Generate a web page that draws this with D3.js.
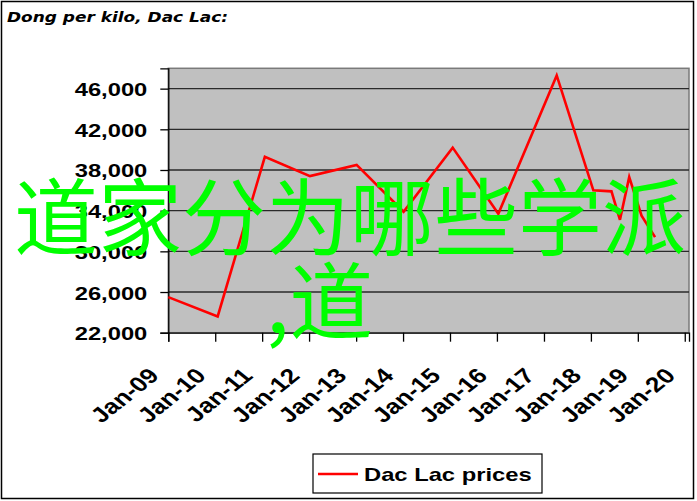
<!DOCTYPE html>
<html><head><meta charset="utf-8">
<script src="https://cdn.jsdelivr.net/npm/d3@7"></script>
<style>html,body{margin:0;padding:0;background:#fff;}svg{display:block;}</style>
</head><body>
<script>
// ---- data ----
const dates = ["2009-01-01","2010-01-20","2011-01-22","2012-01-08","2013-01-05","2014-01-05","2015-01-22","2016-01-12","2017-04-10","2018-01-20","2018-06-10","2018-08-15","2018-10-26","2019-01-30","2019-05-15"];
const prices = [25500, 23600, 39300, 37400, 38500, 33900, 40200, 33700, 47300, 36000, 35900, 33100, 37300, 33500, 31400];
const xTickLabels = ["Jan-09","Jan-10","Jan-11","Jan-12","Jan-13","Jan-14","Jan-15","Jan-16","Jan-17","Jan-18","Jan-19","Jan-20"];
const yTicks = [22000, 26000, 30000, 34000, 38000, 42000, 46000];
const titleText = "Dong per kilo, Dac Lac:";
const seriesName = "Dac Lac prices";
const overlayLines = ["道家分为哪些学派", ",道"];

const W = 697, H = 501;
const plot = {left: 168.3, right: 689, top: 68.3, bottom: 332.7};
const SX = 1.25; // horizontal stretch of chart text

const svg = d3.select("body").append("svg").attr("width", W).attr("height", H);

// outer frame
svg.append("rect").attr("x", 1.5).attr("y", 1.5).attr("width", W - 5).attr("height", H - 4)
  .attr("fill", "#fff").attr("stroke", "#000").attr("stroke-width", 1.5);

const x = d3.scaleUtc().domain([new Date(Date.UTC(2009,0,1)), new Date(Date.UTC(2020,1,3))]).range([plot.left, plot.right]);
const y = d3.scaleLinear().domain([22000, 48000]).range([plot.bottom, plot.top]);

// title
svg.append("text").attr("transform", "translate(7,22) scale(1.17,1)")
  .attr("font-family", "DejaVu Sans").attr("font-weight", "bold").attr("font-style", "italic")
  .attr("font-size", 14.5).attr("fill", "#000").text(titleText);

// plot background
svg.append("rect").attr("x", plot.left).attr("y", plot.top)
  .attr("width", plot.right - plot.left).attr("height", plot.bottom - plot.top)
  .attr("fill", "#c0c0c0").attr("stroke", "#7a7a7a").attr("stroke-width", 1.5);

// gridlines
svg.append("g").selectAll("line").data(yTicks.slice(1)).join("line")
  .attr("x1", plot.left).attr("x2", plot.right)
  .attr("y1", d => y(d)).attr("y2", d => y(d))
  .attr("stroke", "#2a2a2a").attr("stroke-width", 1.3);

// y axis
const yAxis = svg.append("g").attr("transform", `translate(${plot.left},0)`)
  .call(d3.axisLeft(y).tickValues(yTicks).tickSize(8).tickPadding(0).tickFormat(d3.format(",")));
yAxis.select(".domain").attr("stroke", "#000").attr("stroke-width", 1.3);
yAxis.selectAll(".tick line").attr("stroke", "#000").attr("stroke-width", 1.3);
yAxis.selectAll(".tick text")
  .attr("x", null).attr("dy", null)
  .attr("transform", `translate(-21,7) scale(${SX},1)`)
  .attr("text-anchor", "end")
  .attr("font-family", "Liberation Sans, Arial, sans-serif").attr("font-weight", "bold")
  .attr("font-size", 19).attr("fill", "#000");

// x axis
const xTickDates = xTickLabels.map((_, i) => new Date(Date.UTC(2009 + i, 0, 1)));
const xAxis = svg.append("g").attr("transform", `translate(0,${plot.bottom})`)
  .call(d3.axisBottom(x).tickValues(xTickDates).tickSize(9).tickFormat((d, i) => xTickLabels[i]));
xAxis.select(".domain").attr("stroke", "#000").attr("stroke-width", 1.3);
xAxis.selectAll(".tick line").attr("stroke", "#000").attr("stroke-width", 1.3);
xAxis.selectAll(".tick text")
  .attr("y", null).attr("dy", null)
  .attr("transform", `translate(-15,39) scale(${SX},1) rotate(-45)`)
  .attr("text-anchor", "end").attr("dy", "0.35em")
  .attr("font-family", "Liberation Sans, Arial, sans-serif").attr("font-weight", "bold")
  .attr("font-size", 21).attr("fill", "#000");

// line
const pts = dates.map((d, i) => ({date: new Date(d + "T00:00:00Z"), v: prices[i]}));
svg.append("path").datum(pts)
  .attr("d", d3.line().x(d => x(d.date)).y(d => y(d.v)))
  .attr("fill", "none").attr("stroke", "#ff0000").attr("stroke-width", 2.6)
  .attr("stroke-linejoin", "miter");

// legend
const lg = svg.append("g");
lg.append("rect").attr("x", 313).attr("y", 454).attr("width", 229).attr("height", 39)
  .attr("fill", "#fff").attr("stroke", "#000").attr("stroke-width", 1.2);
lg.append("line").attr("x1", 318).attr("x2", 358).attr("y1", 474).attr("y2", 474)
  .attr("stroke", "#ff0000").attr("stroke-width", 2.6);
lg.append("text").attr("transform", `translate(364,481) scale(${SX},1)`)
  .attr("font-family", "Liberation Sans, Arial, sans-serif").attr("font-weight", "bold")
  .attr("font-size", 19).attr("fill", "#000").text(seriesName);

// overlay text
const ov = svg.append("g").attr("font-family", "Noto Sans CJK SC").attr("font-size", 84).attr("fill", "#00ff00");
ov.append("text").attr("x", 14).attr("y", 249).text(overlayLines[0]);
ov.append("text").attr("x", 266).attr("y", 333).text(overlayLines[1]);
</script>
</body></html>
